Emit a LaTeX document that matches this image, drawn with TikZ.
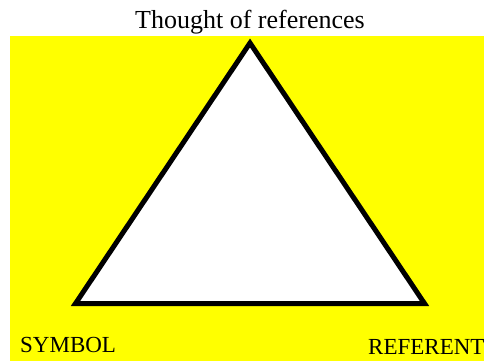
\documentclass[tikz,border=0pt]{standalone}
\usepackage{fontspec}
\setmainfont{Liberation Serif}
\usepackage{xcolor}
\definecolor{bgyellow}{RGB}{255,255,0}

\begin{document}
\begin{tikzpicture}[
  x=1pt, y=-1pt,
  lbl/.style={inner sep=0pt, font=\fontsize{23}{27}\selectfont},
  ttl/.style={inner sep=0pt, font=\fontsize{26}{30}\selectfont},
  edge/.style={draw=black, fill=white, line width=5pt, miter limit=10},
]
\useasboundingbox (0,0) rectangle (484,361);
% --- yellow background ---
\fill[bgyellow] (10,36) rectangle (484,361);
% --- triangle corners ---
\coordinate (top) at (250,43);
\coordinate (sym) at (75.5,303.5);
\coordinate (ref) at (424.5,303.5);
\path[edge] (top) -- (sym) -- (ref) -- cycle;
% --- labels ---
\node[ttl, anchor=base] (thought) at (250,29) {Thought of references};
\node[lbl, anchor=base west] (symbol) at (20,352) {SYMBOL};
\node[lbl, anchor=base west] (referent) at (368,354.5) {REFERENT};
\end{tikzpicture}
\end{document}
